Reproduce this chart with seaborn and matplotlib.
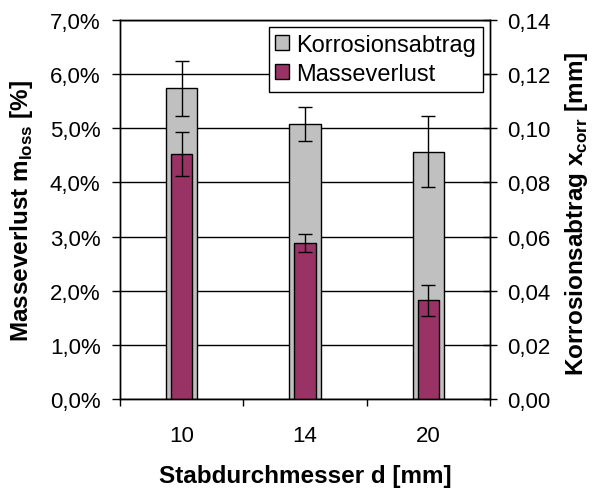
import matplotlib
matplotlib.use('Agg')
from matplotlib import pyplot as plt
from matplotlib.ticker import FuncFormatter, MultipleLocator
import seaborn as sns

# data
durchmesser = ['10', '14', '20']
masseverlust = [4.52, 2.88, 1.82]          # %
masseverlust_err = [0.41, 0.17, 0.28]
korrosion = [0.1147, 0.1017, 0.0914]       # mm
korrosion_err = [0.0103, 0.0063, 0.0131]

grau = '#C0C0C0'
lila = '#993366'

sns.set_style('white')
plt.rcParams['font.family'] = ['Liberation Sans', 'DejaVu Sans']
plt.rcParams['mathtext.fontset'] = 'custom'
plt.rcParams['mathtext.rm'] = 'Liberation Sans'
plt.rcParams['mathtext.bf'] = 'Liberation Sans:bold'
for key in ['text.color', 'axes.labelcolor', 'xtick.color', 'ytick.color']:
    plt.rcParams[key] = 'black'

fig = plt.figure(figsize=(5.92, 4.89), dpi=100)
ax = fig.add_axes([120 / 592, 89 / 489, 370 / 592, 379 / 489])
ax2 = ax.twinx()

# gray bars (right axis) go below, purple bars (left axis) on top
sns.barplot(x=durchmesser, y=korrosion, order=durchmesser, ax=ax2, color=grau,
            width=0.255, edgecolor='black', linewidth=1, saturation=1,
            label='Korrosionsabtrag')
ax2.errorbar(range(3), korrosion, yerr=korrosion_err, fmt='none', ecolor='black',
             elinewidth=1, capsize=4.7, capthick=1)
sns.barplot(x=durchmesser, y=masseverlust, order=durchmesser, ax=ax, color=lila,
            width=0.175, edgecolor='black', linewidth=1, saturation=1,
            label='Masseverlust')
ax.errorbar(range(3), masseverlust, yerr=masseverlust_err, fmt='none', ecolor='black',
            elinewidth=1, capsize=4.7, capthick=1)

ax.set_zorder(ax2.get_zorder() + 1)
ax.patch.set_visible(False)

ax.set_ylim(0, 7)
ax2.set_ylim(0, 0.14)
ax.set_xlim(-0.5, 2.5)
ax.yaxis.set_major_locator(MultipleLocator(1))
ax2.yaxis.set_major_locator(MultipleLocator(0.02))
ax.yaxis.set_major_formatter(FuncFormatter(lambda v, p: f'{v:.1f}%'.replace('.', ',')))
ax2.yaxis.set_major_formatter(FuncFormatter(lambda v, p: f'{v:.2f}'.replace('.', ',')))

ax2.grid(axis='y', color='black', linewidth=1)
ax2.set_axisbelow(True)

ax.set_xticks([0, 1, 2], durchmesser)
ax.set_xticks([-0.5, 0.5, 1.5, 2.5], minor=True)
ax.tick_params(axis='x', which='major', length=0, pad=19, labelsize=16)
ax.tick_params(axis='x', which='minor', length=5, width=1, direction='out', bottom=True)
ax.tick_params(axis='y', length=6, width=1, direction='out', left=True, pad=8, labelsize=16)
ax2.tick_params(axis='y', length=10, width=1, direction='inout', right=True, pad=7, labelsize=16)

for a in (ax, ax2):
    for s in a.spines.values():
        s.set_visible(True)
        s.set_color('black')
        s.set_linewidth(1)

ax.set_xlabel('Stabdurchmesser d [mm]', fontsize=17.5, fontweight='bold')
ax.xaxis.set_label_coords(0.5, -0.172)
ax.set_ylabel(r'Masseverlust m$_\mathbf{loss}$ [%]', fontsize=17.5, fontweight='bold', va='center')
ax.yaxis.set_label_coords(-0.265, 0.5)
ax2.set_ylabel(r'Korrosionsabtrag x$_\mathbf{corr}$ [mm]', fontsize=17.5, fontweight='bold', va='center')
ax2.yaxis.set_label_coords(1.235, 0.49)

# seaborn may have put its own legend on the twin axis; keep only one
if ax2.get_legend() is not None:
    ax2.get_legend().remove()

h1, l1 = ax2.get_legend_handles_labels()
h2, l2 = ax.get_legend_handles_labels()
leg = ax.legend(h1 + h2, l1 + l2, loc='upper right', fontsize=17, frameon=True,
                fancybox=False, edgecolor='black', framealpha=1, borderaxespad=0.3,
                handlelength=0.6, handleheight=0.6, handletextpad=0.3,
                labelspacing=0.32, borderpad=0.28)
leg.get_frame().set_linewidth(1)

fig.savefig('out.png', dpi=100)
